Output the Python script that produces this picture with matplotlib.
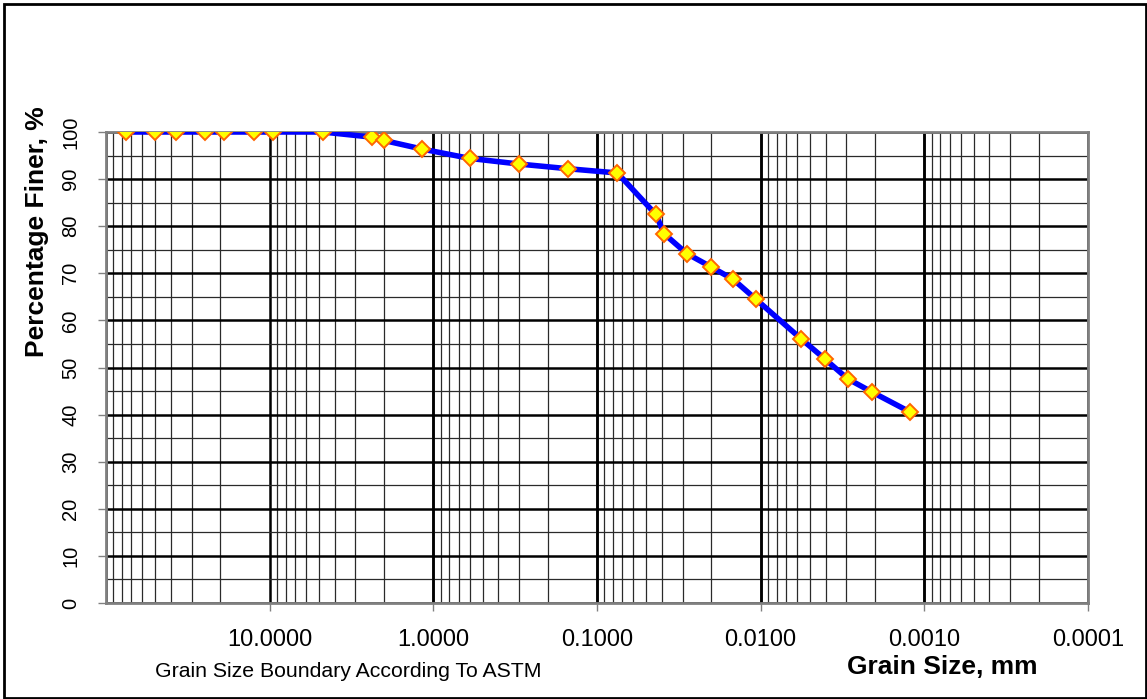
import matplotlib
matplotlib.use("Agg")
import matplotlib.pyplot as plt
from matplotlib.patches import Rectangle
from matplotlib.ticker import FixedLocator, LogLocator, NullFormatter, MultipleLocator
import numpy as np

plt.rcParams["font.family"] = ["Liberation Sans", "DejaVu Sans"]

# grain size (mm) and percentage finer
grain_size = [75, 50, 37.5, 25, 19, 12.5, 9.5, 4.75, 2.36, 2.0, 1.18, 0.6, 0.3,
              0.15, 0.075, 0.0437, 0.0389, 0.0283, 0.0202, 0.0147, 0.0107,
              0.00567, 0.00405, 0.00294, 0.00209, 0.00123]
pct_finer = [100, 100, 100, 100, 100, 100, 100, 100, 98.9, 98.2, 96.4, 94.4, 93.2,
             92.2, 91.3, 82.5, 78.4, 74.2, 71.4, 68.7, 64.5,
             56.1, 51.8, 47.6, 44.8, 40.6]

x_ticks = [10, 1, 0.1, 0.01, 0.001, 0.0001]
x_tick_labels = ["10.0000", "1.0000", "0.1000", "0.0100", "0.0010", "0.0001"]
y_ticks = list(range(0, 101, 10))

W, H = 1147, 699
fig = plt.figure(figsize=(W / 100, H / 100), dpi=100)
ax = fig.add_axes([106 / W, 1 - 603 / H, (1088 - 106) / W, (603 - 132) / H])

ax.set_xscale("log")
ax.set_xlim(100, 0.0001)
ax.set_ylim(0, 100)

# grid: decades + 2..9 subdivisions, horizontal every 5 with heavy lines at 10
ax.xaxis.set_major_locator(FixedLocator(x_ticks))
ax.xaxis.set_minor_locator(LogLocator(base=10, subs=np.arange(2, 10)))
ax.xaxis.set_minor_formatter(NullFormatter())
ax.set_xticklabels(x_tick_labels)
ax.yaxis.set_major_locator(FixedLocator(y_ticks))
ax.yaxis.set_minor_locator(MultipleLocator(5))

ax.grid(True, which="major", axis="both", color="black", lw=1.8)
ax.grid(True, which="minor", axis="both", color="#2a2a2a", lw=0.9)
for v in [100, 1, 0.1, 0.01, 0.001]:
    ax.axvline(v, color="black", lw=1.8, zorder=1)
ax.set_axisbelow(True)

ax.plot(grain_size, pct_finer, color="#0000FF", lw=4, zorder=3)
ax.plot(grain_size, pct_finer, ls="none", marker="D", ms=8,
        mfc="#FFFF00", mec="#FF6600", mew=1.4, zorder=4)

for s in ax.spines.values():
    s.set_color("#808080")
    s.set_linewidth(2)

ax.tick_params(axis="x", which="major", length=6, width=1, color="#808080",
               labelsize=17, pad=13)
ax.tick_params(axis="x", which="minor", length=0)
ax.tick_params(axis="y", which="major", length=6, width=1, color="#808080",
               labelsize=14.5, pad=12.5, labelrotation=90)
ax.tick_params(axis="y", which="minor", length=0)
for lbl in ax.get_yticklabels():
    lbl.set_va("center")

ax.set_ylabel("Percentage Finer, %", fontsize=19, fontweight="bold", labelpad=9)
ax.yaxis.label.set_y((603 - 232) / (603 - 132))

fig.text(942 / W, 1 - 674 / H, "Grain Size, mm", fontsize=19,
         fontweight="bold", ha="center", va="baseline")
fig.text(155 / W, 1 - 677 / H, "Grain Size Boundary According To ASTM",
         fontsize=15.3, ha="left", va="baseline")

fig.patches.append(Rectangle((4 / W, 1 / H), 1142 / W, 694 / H,
                             transform=fig.transFigure, fill=False,
                             edgecolor="black", lw=2))

fig.savefig("out.png", dpi=100)
